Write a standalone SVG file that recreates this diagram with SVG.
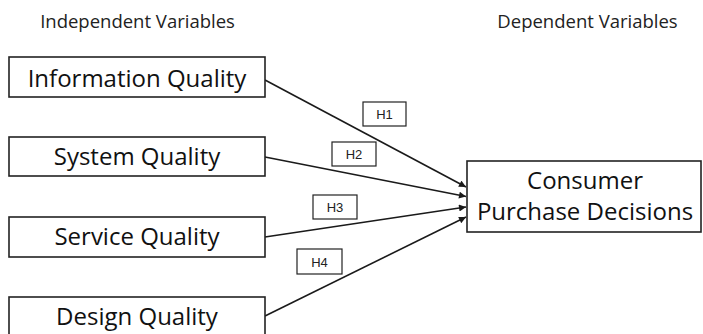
<svg xmlns="http://www.w3.org/2000/svg" width="703" height="334" viewBox="0 0 703 334">
  <style>
    .box { fill: #ffffff; stroke: #222222; stroke-width: 1.6; }
    .hbox { fill: #ffffff; stroke: #222222; stroke-width: 1.2; }
    .lbl { font-family: "Open Sans", "Liberation Sans", sans-serif; font-size: 24px; fill: #111111; text-anchor: middle; }
    .hdr { font-family: "Open Sans", "Liberation Sans", sans-serif; font-size: 18.5px; fill: #222222; text-anchor: middle; }
    .h { font-family: "Liberation Sans", Arial, sans-serif; font-size: 13px; fill: #222222; text-anchor: middle; }
    .con { stroke: #1a1a1a; stroke-width: 1.6; fill: none; marker-end: url(#arr); }
  </style>
  <defs>
    <marker id="arr" viewBox="0 0 10 10" refX="10" refY="5" markerWidth="8" markerHeight="7" markerUnits="userSpaceOnUse" orient="auto">
      <path d="M0,0 L10,5 L0,10 z" fill="#1a1a1a"/>
    </marker>
  </defs>
  <rect width="703" height="334" fill="#ffffff"/>

  <text class="hdr" x="137.5" y="28">Independent Variables</text>
  <text class="hdr" x="587.5" y="28">Dependent Variables</text>

  <g id="connectors">
    <line class="con" x1="265" y1="80" x2="466" y2="187"/>
    <line class="con" x1="265" y1="157" x2="466" y2="196.5"/>
    <line class="con" x1="265" y1="237" x2="466" y2="207"/>
    <line class="con" x1="265" y1="316" x2="466" y2="217"/>
  </g>

  <g id="information-quality">
    <rect class="box" x="9" y="57" width="256" height="40"/>
    <text class="lbl" x="137" y="87">Information Quality</text>
  </g>
  <g id="system-quality">
    <rect class="box" x="9" y="137" width="256" height="39"/>
    <text class="lbl" x="137" y="165">System Quality</text>
  </g>
  <g id="service-quality">
    <rect class="box" x="9" y="217" width="256" height="40"/>
    <text class="lbl" x="137" y="245">Service Quality</text>
  </g>
  <g id="design-quality">
    <rect class="box" x="9" y="297" width="256" height="40"/>
    <text class="lbl" x="137" y="325">Design Quality</text>
  </g>
  <g id="consumer-purchase-decisions">
    <rect class="box" x="467" y="161" width="234" height="71"/>
    <text class="lbl" x="585" y="189">Consumer</text>
    <text class="lbl" x="585" y="220">Purchase Decisions</text>
  </g>

  <g id="h1">
    <rect class="hbox" x="363" y="102" width="43" height="24"/>
    <text class="h" x="384.5" y="119">H1</text>
  </g>
  <g id="h2">
    <rect class="hbox" x="332" y="142" width="44" height="24"/>
    <text class="h" x="354" y="159">H2</text>
  </g>
  <g id="h3">
    <rect class="hbox" x="313" y="195" width="44" height="24"/>
    <text class="h" x="335" y="212">H3</text>
  </g>
  <g id="h4">
    <rect class="hbox" x="297" y="249" width="45" height="25"/>
    <text class="h" x="319.5" y="266.5">H4</text>
  </g>
</svg>
